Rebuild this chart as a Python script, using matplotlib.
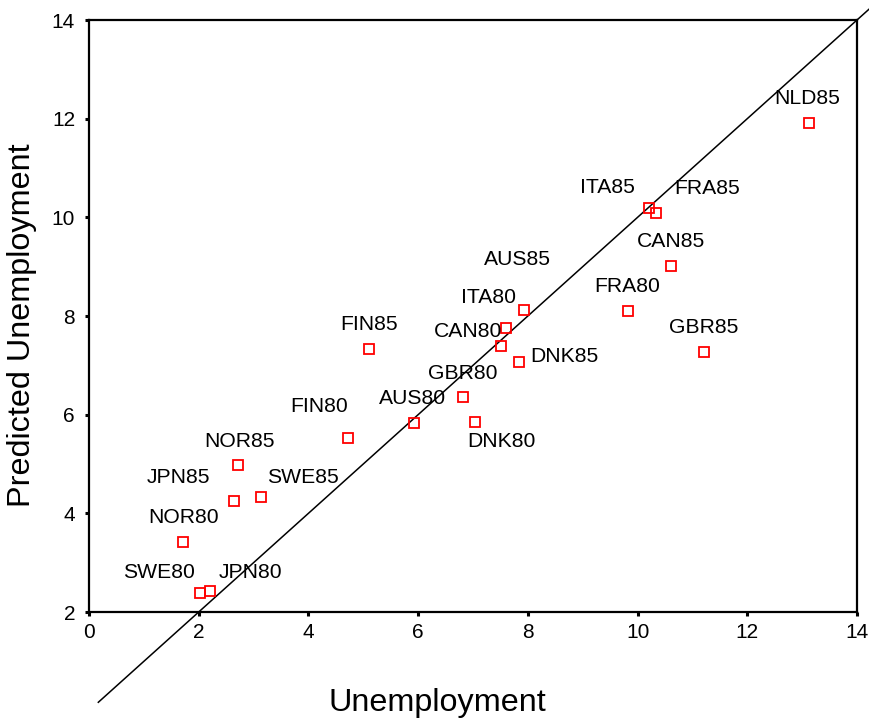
import numpy as np
import matplotlib
matplotlib.use('Agg')
import matplotlib.pyplot as plt

plt.rcParams['font.family'] = ['Liberation Sans', 'DejaVu Sans']

# country/year labels with observed and predicted unemployment
names = ['NLD85', 'ITA85', 'FRA85', 'CAN85', 'FRA80', 'GBR85', 'AUS85',
         'ITA80', 'CAN80', 'DNK85', 'GBR80', 'AUS80', 'DNK80', 'FIN85',
         'FIN80', 'NOR85', 'JPN85', 'SWE85', 'NOR80', 'SWE80', 'JPN80']
unemployment = [13.12, 10.21, 10.34, 10.61, 9.83, 11.22, 7.93,
                7.60, 7.51, 7.83, 6.82, 5.93, 7.04, 5.10,
                4.72, 2.72, 2.64, 3.14, 1.71, 2.03, 2.21]
predicted = [11.92, 10.18, 10.09, 9.02, 8.11, 7.28, 8.12,
             7.75, 7.40, 7.07, 6.36, 5.84, 5.85, 7.33,
             5.53, 4.97, 4.26, 4.34, 3.42, 2.39, 2.43]

# label placement (pixel offset of label centre from the point)
label_dx = [-2, -42, 51, 0, -1, -1, -7, -17, -33, 46, 0, -2, 26, 0,
            -29, 1, -55, 42, 1, -41, 40]
label_dy = [26, 22, 26, 26, 26, 26, 52, 32, 16, 7, 25, 26, -18, 26,
            33, 25, 25, 21, 26, 22, 20]

# 45 degree reference line y = x
ref_line = np.array([0.17, 14.25])

fig = plt.figure(figsize=(8.69, 7.2), dpi=100, facecolor='white')
ax = fig.add_axes([89 / 869., 1 - 612 / 720., 768 / 869., 592 / 720.])

ax.plot(unemployment, predicted, 's', ms=7, mfc='none', mec='red', mew=1.3,
        zorder=3)
ax.plot(ref_line, ref_line, color='black', lw=1.1, clip_on=False, zorder=2)

for name, x, y, dx, dy in zip(names, unemployment, predicted, label_dx, label_dy):
    ax.annotate(name, (x, y), xytext=(dx, dy - 7), textcoords='offset pixels',
                ha='center', va='baseline', fontsize=15.2, color='black')

ax.set_xlim(0, 14)
ax.set_ylim(2, 14)
ax.set_xticks(np.arange(0, 15, 2))
ax.set_yticks(np.arange(2, 15, 2))
ax.tick_params(direction='out', length=3, width=2.2, labelsize=15,
               top=False, right=False)
ax.tick_params(axis='y', pad=7)
ax.tick_params(axis='x', pad=5)
for sp in ax.spines.values():
    sp.set_linewidth(1.6)

ax.set_xlabel('Unemployment', fontsize=23.3)
ax.set_ylabel('Predicted Unemployment', fontsize=23.3)
ax.xaxis.label.set_va('center')
ax.yaxis.label.set_va('center')
ax.xaxis.set_label_coords(0.453, -0.154)
ax.yaxis.set_label_coords(-0.087, 0.485)

fig.savefig('out.png', dpi=100, facecolor='white')
